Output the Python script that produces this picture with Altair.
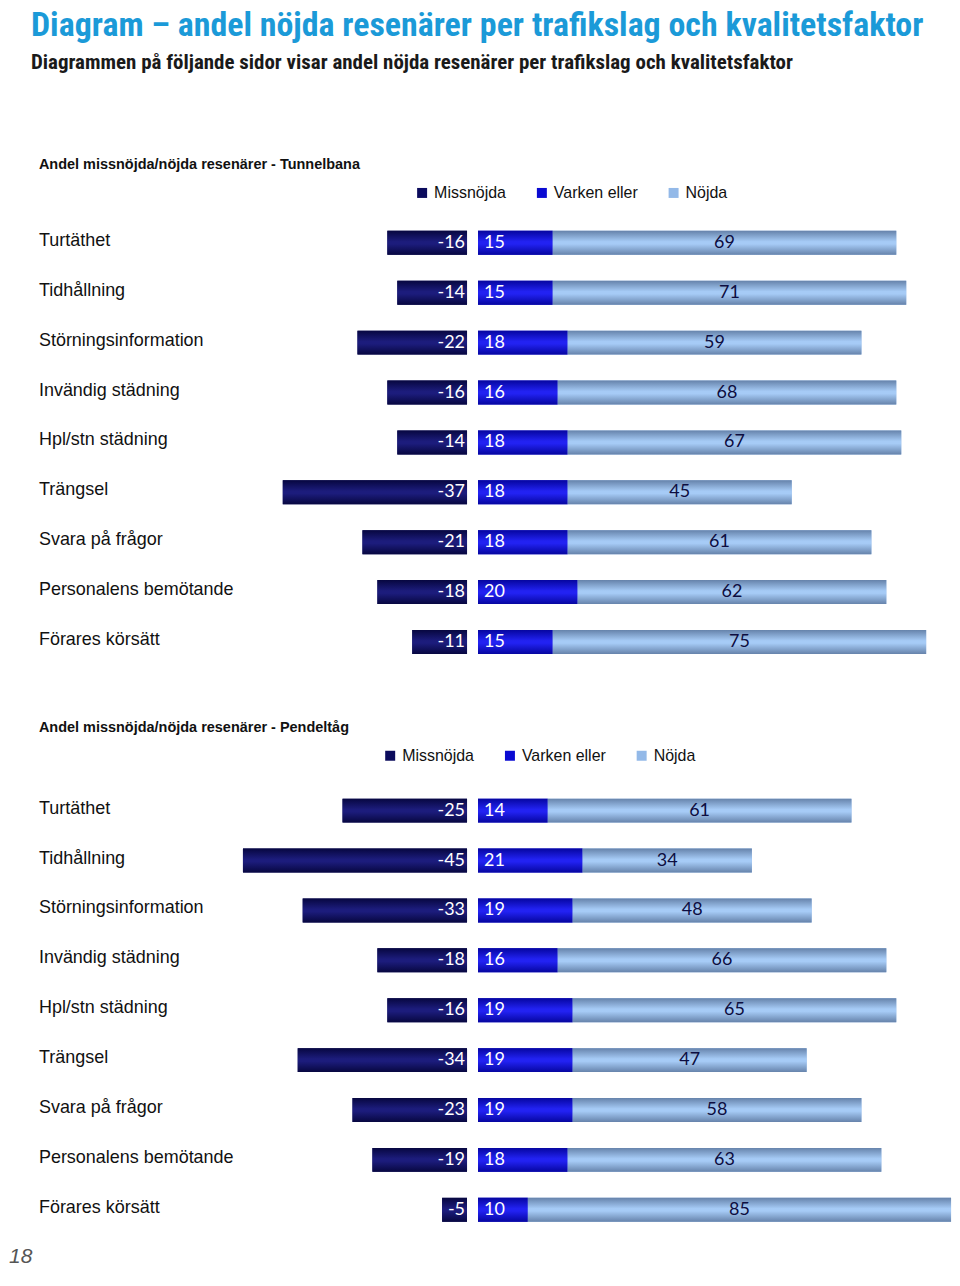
import altair as alt
import pandas as pd

categories = ["Turtäthet", "Tidhållning", "Störningsinformation", "Invändig städning",
              "Hpl/stn städning", "Trängsel", "Svara på frågor", "Personalens bemötande",
              "Förares körsätt"]
series_names = ["Missnöjda", "Varken eller", "Nöjda"]

tb_missnojda = [-16, -14, -22, -16, -14, -37, -21, -18, -11]
tb_varken = [15, 15, 18, 16, 18, 18, 18, 20, 15]
tb_nojda = [69, 71, 59, 68, 67, 45, 61, 62, 75]

pt_missnojda = [-25, -45, -33, -18, -16, -34, -23, -19, -5]
pt_varken = [14, 21, 19, 16, 19, 19, 19, 18, 10]
pt_nojda = [61, 34, 48, 66, 65, 47, 58, 63, 85]

page_number = ["18"]

main_title = "Diagram – andel nöjda resenärer per trafikslag och kvalitetsfaktor"
main_subtitle = "Diagrammen på följande sidor visar andel nöjda resenärer per trafikslag och kvalitetsfaktor"
panel_titles = ["Andel missnöjda/nöjda resenärer - Tunnelbana",
                "Andel missnöjda/nöjda resenärer - Pendeltåg"]

flat_colors = ["#0b0b5c", "#0a0ad2", "#93b9e8"]

NARROW = "Liberation Sans Narrow, Roboto Condensed, DejaVu Sans Condensed, Liberation Sans"
SANS = "Liberation Sans, Arial, sans-serif"
VALFONT = "Lato, Open Sans, sans-serif"

K = 4.99
W = 920
ZERO_PX = 442.5
XMIN = -ZERO_PX / K
XMAX = (W - ZERO_PX) / K
GAP = 5.5
BAR = 24


def grad(c_edge, c_mid):
    return alt.Gradient(
        gradient="linear", x1=0, x2=0, y1=0, y2=1,
        stops=[alt.GradientStop(color=c_edge, offset=0),
               alt.GradientStop(color=c_mid, offset=0.45),
               alt.GradientStop(color=c_mid, offset=0.55),
               alt.GradientStop(color=c_edge, offset=1)])


gradients = [grad("#070740", "#1c1c7c"), grad("#0606a0", "#2222f2"), grad("#6683ab", "#a6cbf6")]


def long_df(m, v, n):
    rows = []
    for i, c in enumerate(categories):
        for j, (s, vals) in enumerate(zip(series_names, (m, v, n))):
            rows.append({"cat": c, "series": s, "ord": j, "value": vals[i]})
    return pd.DataFrame(rows)


def panel(df, title, legend_x, legend_y, with_page=False):
    base = alt.Chart(df).transform_stack(
        stack="value", groupby=["cat"],
        sort=[alt.SortField(field="ord", order="ascending")],
        as_=["x0", "x1"]
    ).transform_calculate(mid="(datum.x0 + datum.x1) / 2", lbl="'' + datum.value")

    xs = alt.Scale(domain=[XMIN, XMAX], nice=False, zero=False)
    ys = alt.Scale(domain=categories, paddingInner=0, paddingOuter=0)
    y = alt.Y("cat:N", scale=ys, axis=None)
    x = alt.X("x0:Q", scale=xs, axis=None)
    x2 = alt.X2("x1:Q")
    color = alt.Color(
        "series:N",
        scale=alt.Scale(domain=series_names, range=flat_colors),
        legend=alt.Legend(orient="none", legendX=legend_x, legendY=legend_y,
                          direction="horizontal", title=None, symbolType="square",
                          symbolSize=100, symbolStrokeWidth=0, labelFont=SANS,
                          labelFontSize=16, labelColor="#111111", columnPadding=27,
                          labelOffset=4))

    layers = []
    layers.append(base.transform_filter("datum.value < 0").mark_bar(
        size=BAR, xOffset=-GAP, x2Offset=-GAP).encode(x=x, x2=x2, y=y, color=color))
    layers.append(base.transform_filter("datum.value >= 0").mark_bar(
        size=BAR, xOffset=GAP, x2Offset=GAP).encode(x=x, x2=x2, y=y, color=color))
    for s, g in zip(series_names, gradients):
        off = -GAP if s == "Missnöjda" else GAP
        layers.append(base.transform_filter(alt.datum.series == s).mark_bar(
            size=BAR, xOffset=off, x2Offset=off, color=g).encode(x=x, x2=x2, y=y))

    layers.append(base.transform_filter(alt.datum.series == "Missnöjda").mark_text(
        align="right", baseline="middle", dx=-GAP - 2, font=VALFONT, fontSize=18,
        color="#ffffff").encode(x=x, y=y, text="lbl:N"))
    layers.append(base.transform_filter(alt.datum.series == "Varken eller").mark_text(
        align="left", baseline="middle", dx=GAP + 6, font=VALFONT, fontSize=18,
        color="#ffffff").encode(x=x, y=y, text="lbl:N"))
    layers.append(base.transform_filter(alt.datum.series == "Nöjda").mark_text(
        align="center", baseline="middle", dx=GAP, font=VALFONT, fontSize=18,
        color="#0d0d40").encode(x=alt.X("mid:Q", scale=xs, axis=None), y=y,
                                text="lbl:N"))
    layers.append(base.transform_filter(alt.datum.series == "Missnöjda").mark_text(
        align="left", baseline="middle", dy=-2, font=SANS, fontSize=18,
        color="#111111").encode(x=alt.value(8), y=y, text="cat:N"))

    if with_page:
        layers.append(alt.Chart(pd.DataFrame({"page": page_number})).mark_text(
            align="left", baseline="alphabetic", font=SANS, fontSize=21,
            fontStyle="italic", color="#555555").encode(
            x=alt.value(-22), y=alt.value(478), text="page:N"))

    return alt.layer(*layers).properties(
        width=W, height=450,
        title=alt.TitleParams(text=title, anchor="start", frame="group", dx=8,
                              font=SANS, fontSize=14.5, fontWeight="bold",
                              color="#111111", baseline="alphabetic", offset=1))


p1 = panel(long_df(tb_missnojda, tb_varken, tb_nojda), panel_titles[0], 384, -33)
p2 = panel(long_df(pt_missnojda, pt_varken, pt_nojda), panel_titles[1], 352, -38, with_page=True)

chart = alt.vconcat(p1, p2, spacing=52).resolve_scale(color="independent").resolve_legend(
    color="independent").properties(
    padding={"left": 0, "top": 0, "right": 0, "bottom": 0},
    title=alt.TitleParams(text=main_title, subtitle=main_subtitle, anchor="start",
                          frame="group", font=NARROW, fontSize=34, fontWeight="bold",
                          color="#1b9ad8", subtitleFont=NARROW, subtitleFontSize=21,
                          subtitleFontWeight="bold", subtitleColor="#1a1a1a",
                          subtitlePadding=9, offset=84)
).configure_view(stroke="transparent")

chart.save("out.html", embed_options={"renderer": "svg", "actions": False})
